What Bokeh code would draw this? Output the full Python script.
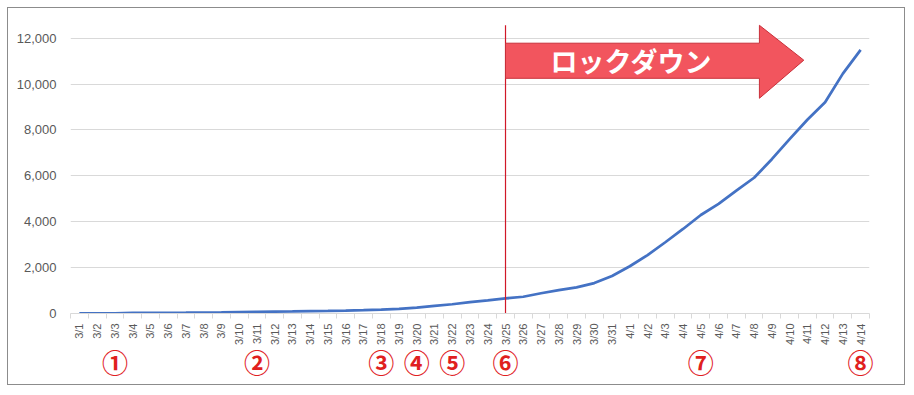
import math
from bokeh.plotting import figure
from bokeh.models import Range1d, FixedTicker, LinearAxis, CustomJSTickFormatter, NumeralTickFormatter
from bokeh.embed import file_html
from bokeh.resources import INLINE
from bokeh.core.properties import value

dates = ["3/1", "3/2", "3/3", "3/4", "3/5", "3/6", "3/7", "3/8", "3/9", "3/10",
         "3/11", "3/12", "3/13", "3/14", "3/15", "3/16", "3/17", "3/18", "3/19", "3/20",
         "3/21", "3/22", "3/23", "3/24", "3/25", "3/26", "3/27", "3/28", "3/29", "3/30",
         "3/31", "4/1", "4/2", "4/3", "4/4", "4/5", "4/6", "4/7", "4/8", "4/9",
         "4/10", "4/11", "4/12", "4/13", "4/14"]
cases = [3, 5, 6, 28, 30, 31, 34, 39, 48, 63,
         71, 81, 91, 102, 112, 126, 146, 171, 198, 256,
         334, 403, 497, 571, 657, 730, 883, 1019, 1139, 1326,
         1635, 2059, 2545, 3105, 3684, 4293, 4778, 5351, 5916, 6725,
         7598, 8446, 9205, 10453, 11487]
y_ticks = [0, 2000, 4000, 6000, 8000, 10000, 12000]
lockdown_date = "3/25"
lockdown_label = "ロックダウン"
event_dates = ["3/3", "3/11", "3/18", "3/20", "3/22", "3/25", "4/5", "4/14"]
event_marks = ["①", "②", "③", "④", "⑤", "⑥", "⑦", "⑧"]

n = len(dates)
xs = [i + 0.5 for i in range(n)]
lx = dates.index(lockdown_date) + 0.5
ev_idx = [dates.index(d) for d in event_dates]

p = figure(width=898, height=378, x_range=Range1d(0, n), y_range=Range1d(0, 12900),
           output_backend="svg", toolbar_location=None,
           min_border_left=62, min_border_right=37, min_border_top=9, min_border_bottom=73)
p.styles = {"border": "1px solid #8c8c8c", "margin-left": "7px", "margin-top": "7px"}
p.outline_line_color = None
p.background_fill_color = "white"
p.border_fill_color = "white"

# grid
p.xgrid.visible = False
p.ygrid.grid_line_color = "#D9D9D9"
p.ygrid.grid_line_width = 1

# y axis
p.yaxis.ticker = FixedTicker(ticks=y_ticks)
p.yaxis.formatter = NumeralTickFormatter(format="0,0")
p.yaxis.axis_line_color = None
p.yaxis.major_tick_line_color = None
p.yaxis.minor_tick_line_color = None
p.yaxis.major_tick_out = 0
p.yaxis.major_label_standoff = 14
p.yaxis.major_label_text_color = "#595959"
p.yaxis.major_label_text_font = "Liberation Sans"
p.yaxis.major_label_text_font_size = "13px"

# x axis (dates)
p.xaxis.ticker = FixedTicker(ticks=xs, minor_ticks=list(range(n + 1)))
p.xaxis.formatter = CustomJSTickFormatter(args=dict(labels=dates),
                                          code="return labels[Math.floor(tick)] || '';")
p.xaxis.major_label_orientation = math.pi / 2
p.xaxis.axis_line_color = "#D9D9D9"
p.xaxis.major_tick_line_color = None
p.xaxis.major_tick_out = 0
p.xaxis.major_tick_in = 0
p.xaxis.minor_tick_line_color = "#D9D9D9"
p.xaxis.minor_tick_out = 5
p.xaxis.minor_tick_in = 0
p.xaxis.major_label_standoff = 5
p.xaxis.major_label_text_color = "#595959"
p.xaxis.major_label_text_font = "Liberation Sans"
p.xaxis.major_label_text_font_size = "11px"

# event markers axis
ax2 = LinearAxis(ticker=FixedTicker(ticks=[i + 0.5 for i in ev_idx]),
                 formatter=CustomJSTickFormatter(args=dict(idx=ev_idx, marks=event_marks),
                                                 code="const k = idx.indexOf(Math.floor(tick)); return k >= 0 ? marks[k] : '';"))
ax2.axis_line_color = None
ax2.major_tick_line_color = None
ax2.minor_tick_line_color = None
ax2.major_tick_out = 0
ax2.major_tick_in = 0
ax2.major_label_standoff = -5
ax2.major_label_text_color = "#E0201E"
ax2.major_label_text_font = "Noto Sans CJK JP"
ax2.major_label_text_font_style = "bold"
ax2.major_label_text_font_size = "26px"
p.add_layout(ax2, "below")

# data line
p.line(xs, cases, line_color="#4472C4", line_width=2.75)

# lockdown vertical line
p.segment(x0=[lx], y0=[0], x1=[lx], y1=[12560], line_color="#D01828", line_width=1.2)

# lockdown arrow
head_base = 38.8
tip = 41.3
ax_ = [lx, head_base, head_base, tip, head_base, head_base, lx]
ay_ = [11780, 11780, 12560, 11040, 9380, 10250, 10250]
p.patch(ax_, ay_, fill_color="#F2555E", line_color="#C8303A", line_width=1)
p.text(x=[31.6], y=[11030], text=[lockdown_label], text_font=value("Noto Sans CJK JP"),
       text_font_style="bold", text_font_size="27px", text_color="white",
       text_align="center", text_baseline="middle")

open("out.html", "w").write(file_html(p, INLINE))
